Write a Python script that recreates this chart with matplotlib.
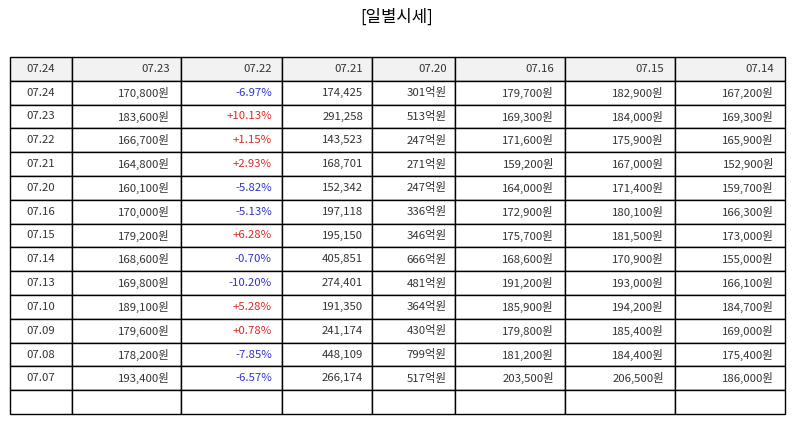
import matplotlib.pyplot as plt

plt.rcParams['font.family'] = ['Noto Sans CJK KR', 'DejaVu Sans']

title = "[일별시세]"
header = ["07.24", "07.23", "07.22", "07.21", "07.20", "07.16", "07.15", "07.14"]

dates = ["07.24", "07.23", "07.22", "07.21", "07.20", "07.16", "07.15",
         "07.14", "07.13", "07.10", "07.09", "07.08", "07.07"]
close = ["170,800원", "183,600원", "166,700원", "164,800원", "160,100원", "170,000원",
         "179,200원", "168,600원", "169,800원", "189,100원", "179,600원", "178,200원", "193,400원"]
change = ["-6.97%", "+10.13%", "+1.15%", "+2.93%", "-5.82%", "-5.13%", "+6.28%",
          "-0.70%", "-10.20%", "+5.28%", "+0.78%", "-7.85%", "-6.57%"]
volume = ["174,425", "291,258", "143,523", "168,701", "152,342", "197,118", "195,150",
          "405,851", "274,401", "191,350", "241,174", "448,109", "266,174"]
amount = ["301억원", "513억원", "247억원", "271억원", "247억원", "336억원", "346억원",
          "666억원", "481억원", "364억원", "430억원", "799억원", "517억원"]
open_ = ["179,700원", "169,300원", "171,600원", "159,200원", "164,000원", "172,900원",
         "175,700원", "168,600원", "191,200원", "185,900원", "179,800원", "181,200원", "203,500원"]
high = ["182,900원", "184,000원", "175,900원", "167,000원", "171,400원", "180,100원",
        "181,500원", "170,900원", "193,000원", "194,200원", "185,400원", "184,400원", "206,500원"]
low = ["167,200원", "169,300원", "165,900원", "152,900원", "159,700원", "166,300원",
       "173,000원", "155,000원", "166,100원", "184,700원", "169,000원", "175,400원", "186,000원"]

col_widths = [62, 109, 101, 90, 83, 110, 110, 110]

rows = [list(r) for r in zip(dates, close, change, volume, amount, open_, high, low)]
rows.append([""] * len(header))

fig = plt.figure(figsize=(7.94, 4.25), dpi=100)
ax = fig.add_axes([0, 0, 1, 1])
ax.axis('off')

fig.text(0.5, 1 - 17 / 425, title, ha='center', va='center', fontsize=12)

tot = sum(col_widths)
tbl = ax.table(cellText=rows, colLabels=header,
               colWidths=[w / tot for w in col_widths],
               bbox=[10 / 794, 1 - 414 / 425, 775 / 794, 357 / 425])
tbl.auto_set_font_size(False)
tbl.set_fontsize(8.2)

for (r, c), cell in tbl.get_celld().items():
    cell.set_edgecolor('black')
    cell.set_linewidth(1.0)
    txt = cell.get_text()
    txt.set_color('#333333')
    if c == 0:
        cell._loc = 'center'
        txt.set_ha('center')
    else:
        cell._loc = 'right'
        txt.set_ha('right')
        cell.PAD = 0.1
    if r == 0:
        cell.set_facecolor('#f2f2f2')
    elif c == 2 and r - 1 < len(change):
        txt.set_color('#e02828' if change[r - 1].startswith('+') else '#3232c8')

fig.savefig('out.png', dpi=100)
